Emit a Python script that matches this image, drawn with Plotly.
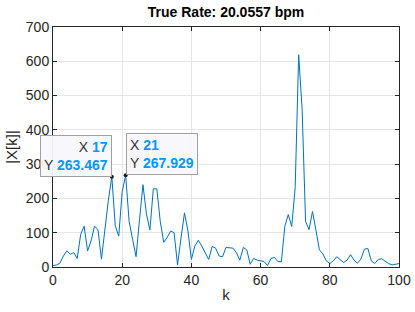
import plotly.graph_objects as go

k_values = list(range(101))
magnitude = [
    4, 6, 11, 32, 47, 37, 42, 25, 95, 119,
    47, 76, 119, 109, 23, 110, 195, 263.467, 120, 90,
    220, 267.929, 133, 81, 30, 138, 240, 155, 108, 228,
    228, 133, 72, 86, 105, 100, 6, 85, 158, 105,
    22, 61, 78, 61, 42, 22, 60, 55, 32, 30,
    57, 57, 55, 42, 20, 57, 50, 8, 25, 20,
    18, 16, 4, 25, 28, 16, 15, 119, 153, 118,
    232, 619, 460, 133, 109, 162, 107, 50, 38, 18,
    10, 18, 30, 20, 13, 20, 36, 20, 11, 23,
    52, 54, 18, 10, 22, 24, 17, 10, 6, 7,
    10,
]
tip_k = [17, 21]
tip_y = [263.467, 267.929]
title_text = "True Rate: 20.0557 bpm"
x_ticks = [0, 20, 40, 60, 80, 100]
y_ticks = [0, 100, 200, 300, 400, 500, 600, 700]

FONT = "Liberation Sans, Arial, Helvetica, sans-serif"
AX = "#262626"

fig = go.Figure()
fig.add_trace(go.Scatter(x=k_values, y=magnitude, mode="lines",
                         line=dict(color="#0072BD", width=1), showlegend=False,
                         hoverinfo="skip"))
fig.add_trace(go.Scatter(x=tip_k, y=tip_y, mode="markers",
                         marker=dict(color="#1a1a1a", size=4), showlegend=False,
                         hoverinfo="skip"))

def tip_text(kv, yv):
    return (f"<span style='color:#333333'>X</span> <b><span style='color:#0099FF'>{kv}</span></b><br>"
            f"<span style='color:#333333'>Y</span> <b><span style='color:#0099FF'>{yv}</span></b>")

fig.add_annotation(x=tip_k[0], y=tip_y[0], xref="x", yref="y", showarrow=False,
                   text=tip_text(tip_k[0], tip_y[0]), align="right",
                   xanchor="right", yanchor="bottom",
                   bgcolor="rgba(248,248,252,0.95)", bordercolor="#a0a0a0",
                   borderwidth=1, borderpad=3,
                   font=dict(family=FONT, size=14, color="#333333"))
fig.add_annotation(x=tip_k[1], y=tip_y[1], xref="x", yref="y", showarrow=False,
                   text=tip_text(tip_k[1], tip_y[1]), align="left",
                   xanchor="left", yanchor="bottom",
                   bgcolor="rgba(248,248,252,0.95)", bordercolor="#a0a0a0",
                   borderwidth=1, borderpad=3,
                   font=dict(family=FONT, size=14, color="#333333"))

axis_common = dict(showline=True, linecolor=AX, linewidth=1, mirror="ticks",
                   ticks="inside", ticklen=4, tickcolor=AX, showgrid=True,
                   gridcolor="#e6e6e6", gridwidth=1, zeroline=False,
                   automargin=False,
                   tickfont=dict(family=FONT, size=14, color=AX))

fig.update_xaxes(range=[0, 100], tickvals=x_ticks,
                 title=dict(text="k", font=dict(family=FONT, size=15, color=AX), standoff=2),
                 **axis_common)
fig.update_yaxes(range=[0, 700], tickvals=y_ticks,
                 title=dict(text="|X[k]|", font=dict(family=FONT, size=15, color=AX), standoff=4),
                 **axis_common)

fig.update_layout(
    width=415, height=312,
    margin=dict(l=53, r=16, t=27, b=45, autoexpand=False),
    paper_bgcolor="white", plot_bgcolor="white",
    title=dict(text=f"<b>{title_text}</b>", x=0.5, xanchor="center", xref="paper",
               y=0.962, yanchor="middle",
               font=dict(family=FONT, size=14, color="#000000")),
)

fig.write_html("out.html", config={"displayModeBar": False},
               post_script="document.body.style.margin='0';document.body.style.overflow='hidden';")
